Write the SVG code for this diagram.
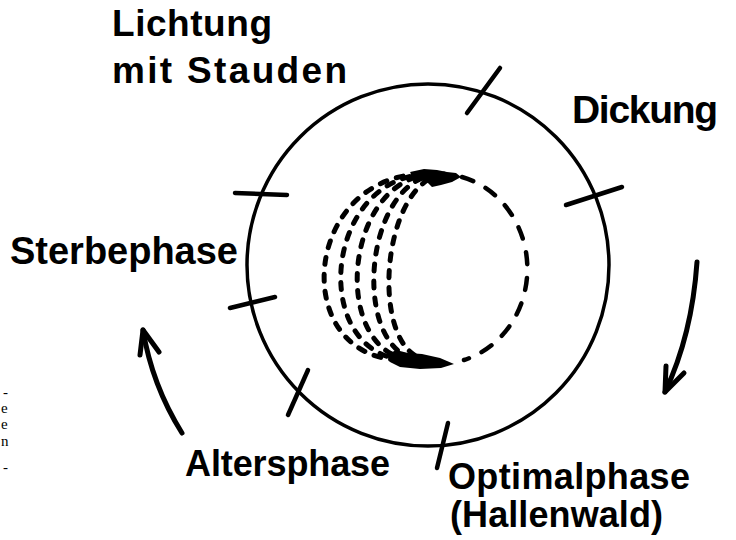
<svg xmlns="http://www.w3.org/2000/svg" width="736" height="540" viewBox="0 0 736 540">
<style>
.lbl{font-family:"Liberation Sans","DejaVu Sans",sans-serif;font-weight:bold;font-size:36px;fill:#000}
.tiny{font-family:"Liberation Serif",serif;font-size:15px;fill:#000}
.ring{fill:none;stroke:#000;stroke-width:3.5}
.tick{stroke:#000;stroke-width:4.5;stroke-linecap:round}
.arrow{fill:none;stroke:#000;stroke-width:5;stroke-linecap:round;stroke-linejoin:round}
.dl{fill:none;stroke:#000;stroke-width:5;stroke-linecap:round;stroke-dasharray:7 10}
.dr{fill:none;stroke:#000;stroke-width:4.5;stroke-linecap:round;stroke-dasharray:12 14}
</style>
<rect width="736" height="540" fill="#fff"/>
<g id="cycle">
<circle class="ring" cx="428" cy="265" r="181"/>
<line class="tick" x1="467" y1="113" x2="500" y2="68"/>
<line class="tick" x1="566" y1="205" x2="622" y2="187"/>
<line class="tick" x1="235" y1="193" x2="287" y2="195"/>
<line class="tick" x1="230" y1="308" x2="275" y2="297"/>
<line class="tick" x1="288" y1="415" x2="308" y2="370"/>
<line class="tick" x1="437" y1="468" x2="448" y2="423"/>
</g>
<g id="gap">
<path class="dr" d="M 462 177 A 88 95 0 0 1 464 360"/>
<path class="dl" d="M 420 174 C 300 180, 290 362, 405 360"/>
<path class="dl" d="M 426 174 C 320 180, 310 362, 412 360"/>
<path class="dl" d="M 432 174 C 340 180, 330 362, 418 360"/>
<path class="dl" d="M 438 174 C 360 180, 350 362, 425 360"/>
<path class="dl" d="M 444 174 C 378 182, 368 362, 432 360"/>
<path d="M 410 172 L 424 169 L 437 170 L 447 172 L 456 173 L 461 177 L 452 182 L 441 185 L 432 187 L 426 181 L 415 180 Z" fill="#000"/>
<path d="M 387 355 L 396 350 L 408 353 L 422 354 L 440 358 L 454 364 L 441 368 L 420 369 L 400 367 L 390 362 Z" fill="#000"/>
</g>
<g id="lichtung">
<text class="lbl" x="112" y="36" textLength="160" lengthAdjust="spacing" style="font-size:37px">Lichtung</text>
<text class="lbl" x="112" y="83" textLength="235" lengthAdjust="spacing" style="font-size:37px">mit Stauden</text>
</g>
<g id="dickung">
<text class="lbl" x="572" y="123" textLength="146" lengthAdjust="spacing" style="font-size:39px">Dickung</text>
</g>
<g id="sterbephase">
<text class="lbl" x="10" y="264" textLength="228" lengthAdjust="spacing" style="font-size:38px">Sterbephase</text>
</g>
<g id="altersphase">
<text class="lbl" x="185" y="476" textLength="205" lengthAdjust="spacing">Altersphase</text>
</g>
<g id="optimalphase">
<text class="lbl" x="448" y="489" textLength="242" lengthAdjust="spacing">Optimalphase</text>
<text class="lbl" x="450" y="527" textLength="213" lengthAdjust="spacing">(Hallenwald)</text>
</g>
<g id="margin">
<text class="tiny" x="3" y="397">-</text>
<text class="tiny" x="1" y="413">e</text>
<text class="tiny" x="1" y="429">e</text>
<text class="tiny" x="1" y="446">n</text>
<text class="tiny" x="3" y="472">-</text>
</g>
<g id="connectors">
<path class="arrow" d="M 182 433 Q 152 385 143 330"/>
<path class="arrow" d="M 140 355 L 143 330 L 159 352"/>
<path class="arrow" d="M 697 262 Q 692 335 665 392"/>
<path class="arrow" d="M 666 366 L 665 392 L 684 373"/>
</g>
</svg>
